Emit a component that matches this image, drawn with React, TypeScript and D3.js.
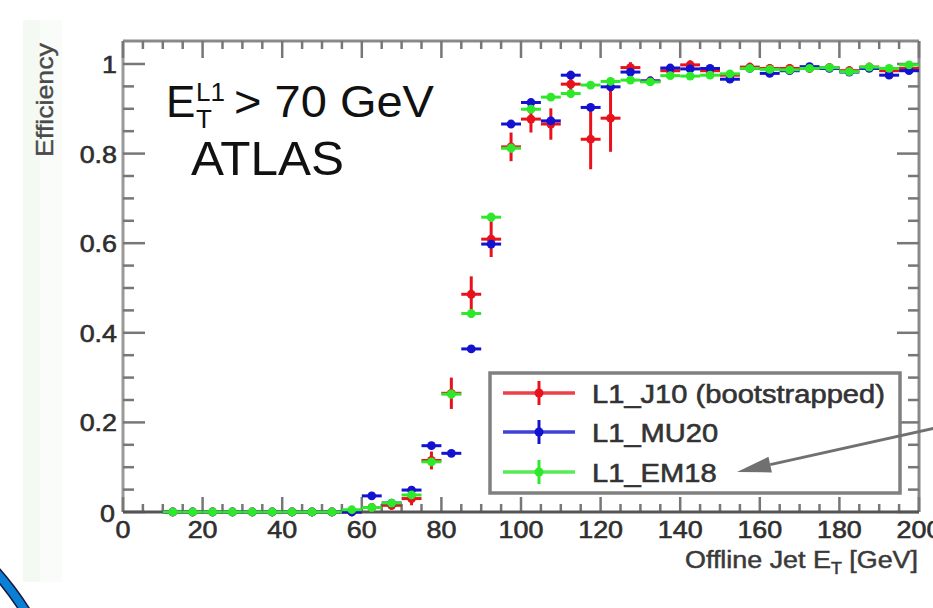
import React from "react";
import * as d3 from "d3";

// ---------- data ----------
const binCenters = [
  12.5, 17.5, 22.5, 27.5, 32.5, 37.5, 42.5, 47.5, 52.5, 57.5,
  62.5, 67.5, 72.5, 77.5, 82.5, 87.5, 92.5, 97.5, 102.5, 107.5,
  112.5, 117.5, 122.5, 127.5, 132.5, 137.5, 142.5, 147.5, 152.5, 157.5,
  162.5, 167.5, 172.5, 177.5, 182.5, 187.5, 192.5, 197.5,
];
const binWidth = 5;

const effJ10 = [
  0, 0, 0, 0, 0, 0, 0, 0, 0, 0,
  0.01, 0.015, 0.03, 0.115, 0.265, 0.486, 0.609, 0.815, 0.877, 0.866,
  0.955, 0.832, 0.879, 0.992, 0.962, 0.985, 0.998, 0.985, 0.975, 0.993,
  0.99, 0.99, 0.99, 0.992, 0.985, 0.993, 0.985, 0.99,
];
const errJ10 = [
  0.004, 0.004, 0.004, 0.004, 0.004, 0.004, 0.004, 0.004, 0.004, 0.004,
  0.008, 0.01, 0.015, 0.02, 0.035, 0.04, 0.04, 0.032, 0.03, 0.035,
  0.03, 0.067, 0.075, 0.012, 0.01, 0.01, 0.01, 0.01, 0.01, 0.01,
  0.01, 0.01, 0.01, 0.01, 0.01, 0.01, 0.01, 0.01,
];
const effMU20 = [
  0, 0, 0, 0, 0, 0, 0, 0, 0, 0,
  0.036, 0.02, 0.049, 0.148, 0.131, 0.364, 0.598, 0.866, 0.914, 0.873,
  0.975, 0.903, 0.949, 0.982, 0.962, 0.991, 0.989, 0.99, 0.966, 0.99,
  0.979, 0.985, 0.994, 0.99, 0.982, 0.99, 0.975, 0.985,
];
const errMU20 = [
  0.003, 0.003, 0.003, 0.003, 0.003, 0.003, 0.003, 0.003, 0.003, 0.003,
  0.006, 0.006, 0.008, 0.008, 0.006, 0.006, 0.008, 0.008, 0.007, 0.008,
  0.008, 0.008, 0.007, 0.006, 0.006, 0.006, 0.006, 0.006, 0.006, 0.006,
  0.006, 0.006, 0.006, 0.006, 0.006, 0.006, 0.006, 0.006,
];
const effEM18 = [
  0, 0, 0, 0, 0, 0, 0, 0, 0, 0.005,
  0.01, 0.02, 0.038, 0.112, 0.263, 0.443, 0.658, 0.812, 0.899, 0.926,
  0.934, 0.953, 0.961, 0.964, 0.96, 0.974, 0.973, 0.975, 0.978, 0.99,
  0.988, 0.987, 0.99, 0.992, 0.983, 0.993, 0.99, 0.998,
];
const errEM18 = [
  0.003, 0.003, 0.003, 0.003, 0.003, 0.003, 0.003, 0.003, 0.003, 0.003,
  0.005, 0.005, 0.006, 0.008, 0.01, 0.01, 0.01, 0.01, 0.008, 0.007,
  0.007, 0.006, 0.006, 0.006, 0.006, 0.006, 0.006, 0.006, 0.006, 0.006,
  0.006, 0.006, 0.006, 0.006, 0.006, 0.006, 0.006, 0.006,
];

const seriesNames = ["L1_J10 (bootstrapped)", "L1_MU20", "L1_EM18"];
const seriesColors = ["#e8121c", "#1212d0", "#2ee82a"];

const xTicks = [0, 20, 40, 60, 80, 100, 120, 140, 160, 180, 200];
const yTicks = [0, 0.2, 0.4, 0.6, 0.8, 1];
const yTickLabels = ["0", "0.2", "0.4", "0.6", "0.8", "1"];

// ---------- layout ----------
const W = 933;
const H = 608;
const L = 123;
const R = 919;
const T = 41;
const B = 512;
const SX = 1.12; // horizontal stretch of the original raster text
const FONT = "'Liberation Sans', Arial, sans-serif";

const x = d3.scaleLinear().domain([0, 200]).range([L, R]);
const y = d3.scaleLinear().domain([0, 1.0513]).range([B, T]);

function Txt({ x: tx, y: ty, size, anchor = "start", fill = "#2e2e2e", children }: any) {
  return (
    <text
      transform={`translate(${tx},${ty}) scale(${SX},1)`}
      fontSize={size}
      textAnchor={anchor}
      fill={fill}
      stroke={fill}
      strokeWidth={0.6}
      fontFamily={FONT}
    >
      {children}
    </text>
  );
}

function Series({ vals, errs, color }: { vals: number[]; errs: number[]; color: string }) {
  return (
    <g>
      {binCenters.map((c, i) => {
        const cx = x(c);
        const cy = y(vals[i]);
        return (
          <g key={i}>
            <line x1={x(c - binWidth / 2)} x2={x(c + binWidth / 2)} y1={cy} y2={cy} stroke={color} strokeWidth={3} />
            <line x1={cx} x2={cx} y1={y(vals[i] - errs[i])} y2={y(vals[i] + errs[i])} stroke={color} strokeWidth={3} />
            <circle cx={cx} cy={cy} r={4.4} fill={color} />
          </g>
        );
      })}
    </g>
  );
}

export default function App() {
  const yMinor = d3.range(0, 21).map((i) => i * 0.05);
  const xMinor = d3.range(0, 41).map((i) => i * 5);
  const axisCol = "#777";

  // arrow geometry (annotation)
  const ax0 = 935, ay0 = 428, ax1 = 737, ay1 = 472;
  const dx = ax0 - ax1, dy = ay0 - ay1;
  const len = Math.hypot(dx, dy);
  const ux = dx / len, uy = dy / len;
  const hb = 34, hw = 8;
  const bx = ax1 + ux * hb, by = ay1 + uy * hb;
  const head = `${ax1},${ay1} ${bx - uy * hw},${by + ux * hw} ${bx + uy * hw},${by - ux * hw}`;

  const legendY = [393, 432, 472];

  return (
    <svg width={W} height={H} style={{ position: "absolute", left: 0, top: 0, background: "#fff" }}>
      <rect x={0} y={0} width={W} height={H} fill="#fff" />
      {/* faint side band */}
      <rect x={23} y={20} width={17} height={562} fill="#f4faf3" />
      <rect x={40} y={20} width={22} height={562} fill="#fafcfa" />

      {/* frame */}
      <line x1={L} x2={R} y1={T} y2={T} stroke="#8a8a8a" strokeWidth={3} />
      <line x1={R} x2={R} y1={T} y2={B} stroke="#8a8a8a" strokeWidth={3} />
      <line x1={L} x2={L} y1={T} y2={B} stroke="#9a9a9a" strokeWidth={3} />

      {/* y ticks left & right */}
      {yMinor.map((v, i) => {
        const major = i % 4 === 0;
        const len = major ? 22 : 11;
        return (
          <g key={"ym" + i}>
            <line x1={L} x2={L + len} y1={y(v)} y2={y(v)} stroke={axisCol} strokeWidth={2.5} />
            <line x1={R} x2={R - len} y1={y(v)} y2={y(v)} stroke={axisCol} strokeWidth={2.5} />
          </g>
        );
      })}
      {/* x ticks top & bottom */}
      {xMinor.map((v, i) => {
        const major = i % 4 === 0;
        return (
          <g key={"xm" + i}>
            <line x1={x(v)} x2={x(v)} y1={B} y2={B - (major ? 15 : 8)} stroke={axisCol} strokeWidth={2.5} />
            <line x1={x(v)} x2={x(v)} y1={T} y2={T + (major ? 17 : 8)} stroke={axisCol} strokeWidth={2.5} />
          </g>
        );
      })}
      <line x1={L} x2={R} y1={B} y2={B} stroke="#555" strokeWidth={3} />

      {/* data */}
      <Series vals={effJ10} errs={errJ10} color={seriesColors[0]} />
      <Series vals={effMU20} errs={errMU20} color={seriesColors[1]} />
      <Series vals={effEM18} errs={errEM18} color={seriesColors[2]} />

      {/* tick labels */}
      {yTicks.map((v, i) => (
        <Txt key={"yl" + i} x={v === 0 ? 115 : 117} y={y(v) + (v === 0 ? 10 : 9)} size={24} anchor="end">
          {yTickLabels[i]}
        </Txt>
      ))}
      {xTicks.map((v, i) => (
        <Txt key={"xl" + i} x={x(v)} y={538} size={24} anchor="middle">{String(v)}</Txt>
      ))}

      {/* axis titles */}
      <text transform="translate(53,157) rotate(-90)" fontSize={24} fill="#4a4a4a" stroke="#4a4a4a" strokeWidth={0.4} fontFamily={FONT} textLength={114} lengthAdjust="spacingAndGlyphs">Efficiency</text>
      <g transform={`translate(918,568) scale(${SX},1)`}>
        <text textAnchor="end" fontSize={24} fill="#3a3a3a" stroke="#3a3a3a" strokeWidth={0.5} fontFamily={FONT}>
          Offline Jet E<tspan fontSize={16} dy={6}>T</tspan><tspan dy={-6}> [GeV]</tspan>
        </text>
      </g>

      {/* annotations */}
      <g fontFamily={FONT} fill="#111">
        <text x={166} y={117} fontSize={44}>E</text>
        <text x={196} y={101} fontSize={26}>L1</text>
        <text x={196} y={128} fontSize={26}>T</text>
        <text x={234} y={117} fontSize={44} textLength={200} lengthAdjust="spacingAndGlyphs">&gt; 70 GeV</text>
        <text x={191} y={175} fontSize={48} textLength={153} lengthAdjust="spacingAndGlyphs">ATLAS</text>
      </g>

      {/* legend */}
      <rect x={490} y={373} width={410} height={120} fill="#fff" stroke="#808080" strokeWidth={3.5} />
      {seriesNames.map((n, i) => (
        <g key={"lg" + i}>
          <line x1={503} x2={575} y1={legendY[i]} y2={legendY[i]} stroke={seriesColors[i]} strokeWidth={3.5} opacity={0.8} />
          <line x1={539} x2={539} y1={legendY[i] - 12} y2={legendY[i] + 12} stroke={seriesColors[i]} strokeWidth={3} />
          <circle cx={539} cy={legendY[i]} r={4.5} fill={seriesColors[i]} />
          <Txt x={592} y={legendY[i] + 10} size={26} fill="#333">{n}</Txt>
        </g>
      ))}

      {/* arrow */}
      <line x1={ax0} y1={ay0} x2={bx} y2={by} stroke="#707070" strokeWidth={3} />
      <polygon points={head} fill="#707070" />

      {/* blue arc decoration */}
      <path d="M -4 572 Q 12 590 26 612" fill="none" stroke="#1a1a40" strokeWidth={11} />
      <path d="M -4 572 Q 12 590 26 612" fill="none" stroke="#0a7fd6" strokeWidth={8} />
    </svg>
  );
}
